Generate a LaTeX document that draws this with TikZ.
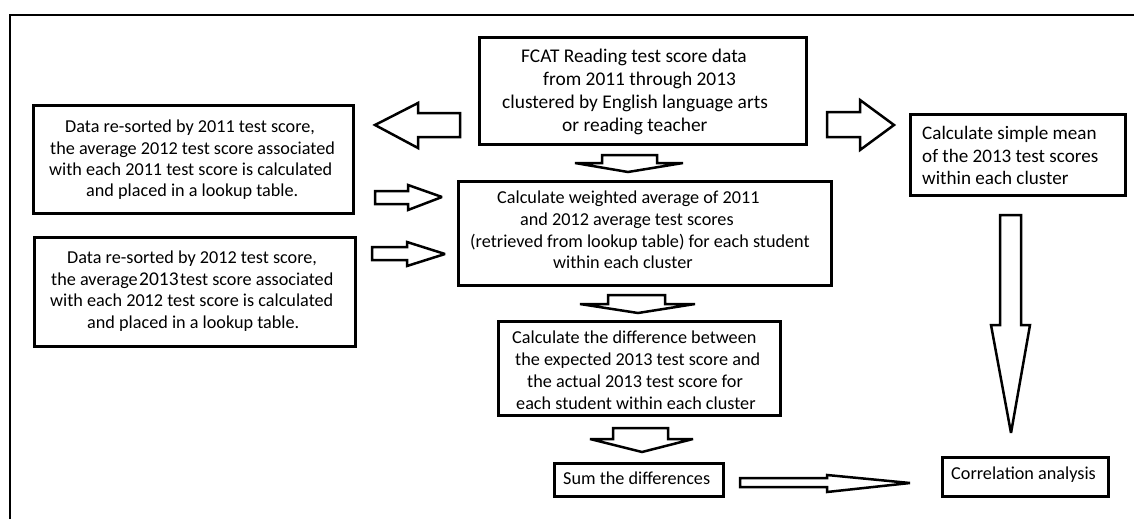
\documentclass[tikz,border=0pt]{standalone}
\usepackage{fontspec}
\setmainfont{Carlito}
\begin{document}
\begin{tikzpicture}[x=1pt,y=-1pt,
  box/.style={draw, line width=2.8pt, inner sep=0pt},
  txt/.style={inner sep=0pt, align=left, anchor=west, font=\fontsize{18.2}{21.8}\selectfont},
  blk/.style={draw, line width=2.5pt, line join=miter, miter limit=2.5, fill=white}]
\useasboundingbox (0,0) rectangle (1134,519);
% frame
\draw[line width=2pt] (9.5,519) -- (9.5,15.5) -- (1134,15.5);
% boxes
\node[box, minimum width=320pt, minimum height=108pt] (a) at (193.5,159.5) {};
\node[box, minimum width=321pt, minimum height=109pt] (b) at (195,292) {};
\node[box, minimum width=327pt, minimum height=107pt] (fcat) at (643,91) {};
\node[box, minimum width=373pt, minimum height=104pt] (wavg) at (645,233.5) {};
\node[box, minimum width=215pt, minimum height=81pt] (mean) at (1018,155) {};
\node[box, minimum width=282pt, minimum height=94pt] (diff) at (639.5,368.5) {};
\node[box, line width=2.5pt, minimum width=169pt, minimum height=33pt] (sum) at (639,480) {};
\node[box, line width=2.5pt, minimum width=166pt, minimum height=39pt] (corr) at (1025.5,477) {};
% texts
\node[txt, font=\fontsize{19.4}{23}\selectfont] (fcatt) at (502,91.5)
 {\hspace*{19pt}FCAT Reading test score data\\
  \hspace*{41pt}from 2011 through 2013\\
  clustered by English language arts\\
  \hspace*{60pt}or reading teacher};
\node[txt, font=\fontsize{18.2}{21.3}\selectfont] (at) at (49,160)
 {\hspace*{16pt}Data re-sorted by 2011 test score,\\
  \hspace*{1pt}the average 2012 test score associated\\
  with each 2011 test score is calculated\\
  \hspace*{37pt}and placed in a lookup table.};
\node[txt, font=\fontsize{18.2}{21.7}\selectfont] (bt) at (50,291)
 {\hspace*{17pt}Data re-sorted by 2012 test score,\\
  \hspace*{1pt}the average\hspace{1.5pt}{\fontsize{19.5}{21}\selectfont 2013}\hspace{1.5pt}test score associated\\
  with each 2012 test score is calculated\\
  \hspace*{37pt}and placed in a lookup table.};
\node[txt, font=\fontsize{18.2}{21.7}\selectfont] (wt) at (470,230)
 {\hspace*{27pt}Calculate weighted average of 2011\\
  \hspace*{50pt}and 2012 average test scores\\
  (retrieved from lookup table) for each student\\
  \hspace*{83pt}within each cluster};
\node[txt, font=\fontsize{19.1}{22.5}\selectfont] (mt) at (922,155.5)
 {Calculate simple mean\\
  of the 2013 test scores\\
  within each cluster};
\node[txt, font=\fontsize{18.2}{22}\selectfont] (dt) at (512,370.5)
 {Calculate the difference between\\
  \hspace*{3pt}the expected 2013 test score and\\
  \hspace*{15pt}the actual 2013 test score for\\
  \hspace*{4pt}each student within each cluster};
\node[txt] (st) at (563,478.5) {Sum the differences};
\node[txt] (ct) at (951,474.5) {Correlation analysis};
% block arrows
\draw[blk] (375,125) -- (418,103) -- (418,113) -- (460,113) -- (460,137) -- (418,137) -- (418,148) -- cycle;
\draw[blk] (827,112) -- (860,112) -- (860,100) -- (894,125) -- (860,150) -- (860,137) -- (827,137) -- cycle;
\draw[blk] (602,163) -- (602,155) -- (657,155) -- (657,163) -- (683,163) -- (628,172) -- (575,163) -- cycle;
\draw[blk] (375,191) -- (408,191) -- (408,185) -- (442,197) -- (408,210) -- (408,204) -- (375,204) -- cycle;
\draw[blk] (372,247) -- (407,247) -- (407,242) -- (445,254) -- (407,266) -- (407,260) -- (372,260) -- cycle;
\draw[blk] (608,304) -- (608,295) -- (665,295) -- (665,304) -- (695,304) -- (638,313) -- (580,304) -- cycle;
\draw[blk] (613,439) -- (613,428) -- (668,428) -- (668,439) -- (693,439) -- (642,452) -- (590,439) -- cycle;
\draw[blk] (740,478) -- (827,478) -- (827,475) -- (910,483) -- (827,492) -- (827,487) -- (740,487) -- cycle;
\draw[blk] (1000,215) -- (1021,215) -- (1021,325) -- (1030,325) -- (1011,433) -- (991,325) -- (1000,325) -- cycle;
\end{tikzpicture}
\end{document}
